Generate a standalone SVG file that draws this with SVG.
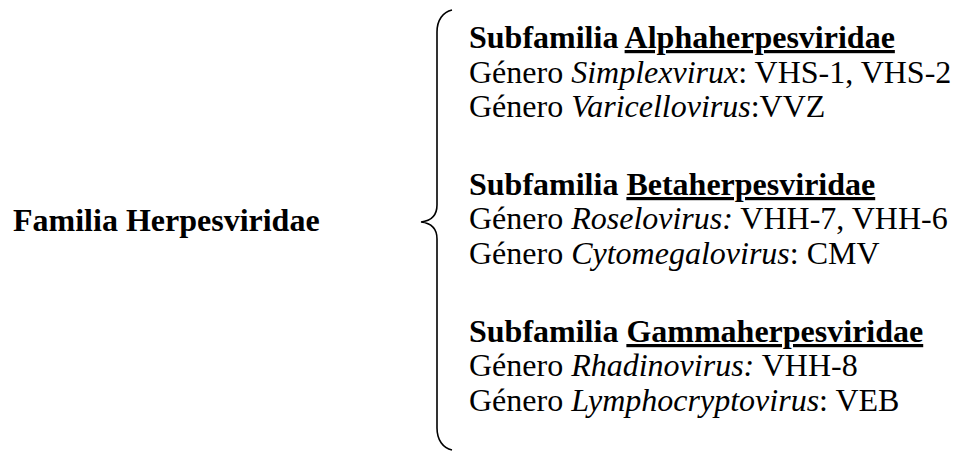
<svg xmlns="http://www.w3.org/2000/svg" width="957" height="453" viewBox="0 0 957 453">
  <style>
    text { font-family: "Liberation Serif", "Times New Roman", "DejaVu Serif", serif; font-size: 32px; fill: #000; }
    .b { font-weight: bold; }
    .i { font-style: italic; }
    .u { text-decoration: underline; }
    .brace { fill: none; stroke: #000; stroke-width: 1.6; }
  </style>
  <rect width="957" height="453" fill="#fff"/>

  <g id="familia">
    <text class="b" x="13" y="231">Familia Herpesviridae</text>
  </g>

  <g id="connectors">
    <path class="brace" d="M452,10 C443,12 437,20 437,32 L437,205 C437,216 430,221 421,222 C430,223 437,228 437,239 L437,428 C437,440 443,448 452,450"/>
  </g>

  <g id="alpha">
    <text x="469" y="48" class="b">Subfamilia <tspan class="u">Alphaherpesviridae</tspan></text>
    <text x="469" y="83">Género <tspan class="i">Simplexvirux</tspan>: VHS-1, VHS-2</text>
    <text x="469" y="117">Género <tspan class="i">Varicellovirus</tspan>:VVZ</text>
  </g>

  <g id="beta">
    <text x="469" y="195" class="b">Subfamilia <tspan class="u">Betaherpesviridae</tspan></text>
    <text x="469" y="229">Género <tspan class="i">Roselovirus:</tspan> VHH-7, VHH-6</text>
    <text x="469" y="264">Género <tspan class="i">Cytomegalovirus</tspan>: CMV</text>
  </g>

  <g id="gamma">
    <text x="469" y="342" class="b">Subfamilia <tspan class="u">Gammaherpesviridae</tspan></text>
    <text x="469" y="376">Género <tspan class="i">Rhadinovirus:</tspan> VHH-8</text>
    <text x="469" y="411">Género <tspan class="i">Lymphocryptovirus</tspan>: VEB</text>
  </g>
</svg>
